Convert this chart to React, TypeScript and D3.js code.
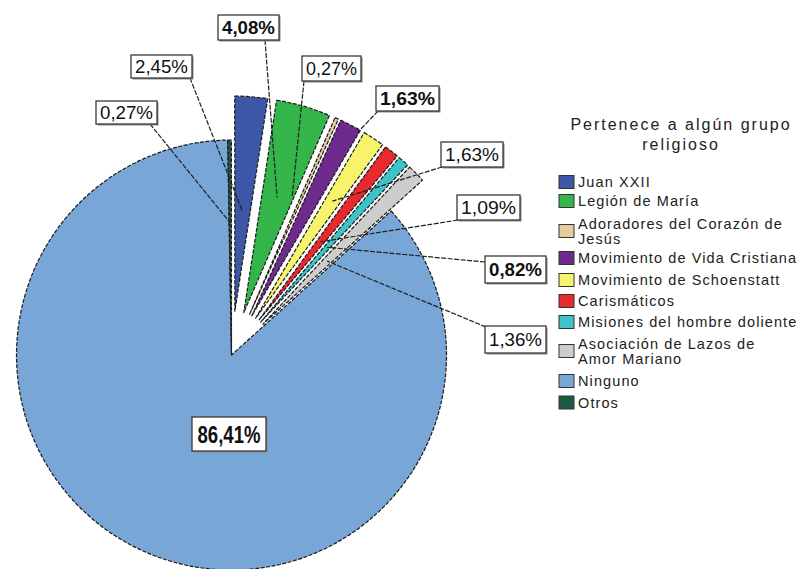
import React from "react";
import * as d3 from "d3";

// ---- data (legend order) ----
const categories = [
  "Juan XXII",
  "Legión de María",
  "Adoradores del Corazón de Jesús",
  "Movimiento de Vida Cristiana",
  "Movimiento de Schoenstatt",
  "Carismáticos",
  "Misiones del hombre doliente",
  "Asociación de Lazos de Amor Mariano",
  "Ninguno",
  "Otros",
];
const percents = [2.45, 4.08, 0.27, 1.63, 1.63, 1.09, 0.82, 1.36, 86.41, 0.27];
const legendLines = [
  ["Juan XXII"],
  ["Legión de María"],
  ["Adoradores del Corazón de", "Jesús"],
  ["Movimiento de Vida Cristiana"],
  ["Movimiento de Schoenstatt"],
  ["Carismáticos"],
  ["Misiones del hombre doliente"],
  ["Asociación de Lazos de", "Amor Mariano"],
  ["Ninguno"],
  ["Otros"],
];
const legendTitle = ["Pertenece a algún grupo", "religioso"];
// order in which slices run clockwise from 12 o'clock
const pieOrder = [9, 0, 1, 2, 3, 4, 5, 6, 7, 8];

// ---- styles / layout ----
const colors = [
  "#3B57A6", "#33B54A", "#E6CC9E", "#6E2A8C", "#F7F36B",
  "#E8292E", "#3EC3C9", "#CDCDCD", "#78A6D7", "#1D5A43",
];
const explode = [44, 44, 44, 44, 44, 44, 44, 44, 0, 0];
// label boxes [x, y, w, h], leader start, leader end (angle deg override, radius)
const labelLayout = [
  { box: [131, 55, 61, 23], start: [190, 78], r: 100, bold: false },
  { box: [218, 15, 61, 25], start: [265, 40], r: 120, bold: true },
  { box: [302, 56, 59, 25], start: [304, 81], ang: 20, r: 125, bold: false },
  { box: [376, 86, 63, 25], start: [378, 111], ang: 30, r: 212, bold: true },
  { box: [441, 142, 62, 25], start: [442, 167], r: 140, bold: false },
  { box: [457, 195, 63, 25], start: [458, 220], r: 100, bold: false },
  { box: [485, 256, 61, 27], start: [485, 262], r: 100, bold: true },
  { box: [485, 326, 61, 27], start: [486, 327], r: 90, bold: false },
  { box: [192, 417, 74, 34], start: null, r: 0, bold: true },
  { box: [96, 101, 61, 23], start: [150, 124], r: 132, bold: false },
];

const W = 800;
const H = 569;
const cx = 231.5;
const cy = 355;
const R = 215;
const rot = (-1 * Math.PI) / 180;

const fmt = (v: number) => d3.format(".2f")(v).replace(".", ",") + "%";

export default function App() {
  const pie = d3
    .pie<number>()
    .sort(null)
    .value((i) => percents[i])
    .startAngle(rot)
    .endAngle(rot + 2 * Math.PI);
  const arcs = pie(pieOrder);
  const arcGen = d3.arc<d3.PieArcDatum<number>>().innerRadius(0).outerRadius(R);

  const info = arcs.map((a) => {
    const i = a.data;
    const mid = (a.startAngle + a.endAngle) / 2;
    const e = explode[i];
    const ax = cx + e * Math.sin(mid);
    const ay = cy - e * Math.cos(mid);
    const L = labelLayout[i];
    const ang = L.ang !== undefined ? (L.ang * Math.PI) / 180 : mid;
    const ex = ax + L.r * Math.sin(ang);
    const ey = ay - L.r * Math.cos(ang);
    return { a, i, ax, ay, ex, ey };
  });

  const legendX = 559;
  const legendRows = [182, 201, 231, 258, 280, 301, 322, 351, 381, 402.5];

  return (
    <svg
      width={W}
      height={H}
      style={{ position: "absolute", left: 0, top: 0, background: "#fff" }}
      fontFamily="'Liberation Sans', Arial, sans-serif"
    >
      <rect x={0} y={0} width={W} height={H} fill="#fff" />
      {[...info]
        .sort((p, q) => (p.i === 8 ? -1 : q.i === 8 ? 1 : 0))
        .map((s) => (
          <path
            key={s.i}
            d={arcGen(s.a) || ""}
            transform={`translate(${s.ax},${s.ay})`}
            fill={colors[s.i]}
            stroke="#1a1a1a"
            strokeWidth={1.2}
            strokeDasharray="4,1.5"
            strokeLinejoin="round"
          />
        ))}
      {info
        .filter((s) => labelLayout[s.i].start)
        .map((s) => {
          const st = labelLayout[s.i].start as number[];
          return (
            <line
              key={"l" + s.i}
              x1={st[0]}
              y1={st[1]}
              x2={s.ex}
              y2={s.ey}
              stroke="#1f1f1f"
              strokeWidth={1.2}
              strokeDasharray="5,1.5"
            />
          );
        })}
      {info.map((s) => {
        const L = labelLayout[s.i];
        const [x, y, w, h] = L.box;
        const big = s.i === 8;
        return (
          <g key={"b" + s.i}>
            <rect x={x + 1.5} y={y + 1.5} width={w} height={h} fill="#8a8a8a" />
            <rect x={x} y={y} width={w} height={h} fill="#fff" stroke="#3a3a3a" strokeWidth={1.3} />
            <text
              x={x + w / 2}
              y={y + h / 2 + (big ? 8.5 : 6.5)}
              textAnchor="middle"
              fontSize={big ? 24 : 18.5}
              fontWeight={L.bold ? "bold" : "normal"}
              fill="#111"
              textLength={w - (big ? 11 : 8)}
              lengthAdjust="spacingAndGlyphs"
            >
              {fmt(percents[s.i])}
            </text>
          </g>
        );
      })}
      <g fill="#222">
        {legendTitle.map((t, k) => (
          <text
            key={"t" + k}
            x={681}
            y={130 + k * 20}
            textAnchor="middle"
            fontSize={16}
            letterSpacing={2}
          >
            {t}
          </text>
        ))}
        {categories.map((c, i) => {
          const yc = legendRows[i];
          const lines = legendLines[i];
          return (
            <g key={"lg" + i}>
              <rect
                x={legendX}
                y={yc - 6.5}
                width={15}
                height={13}
                fill={colors[i]}
                stroke="#333"
                strokeWidth={1}
              />
              {lines.map((ln, k) => (
                <text
                  key={k}
                  x={578}
                  y={yc + 5 + (lines.length === 2 ? (k === 0 ? -7.5 : 7.5) : 0)}
                  fontSize={14.5}
                  letterSpacing={1.1}
                >
                  {ln}
                </text>
              ))}
            </g>
          );
        })}
      </g>
    </svg>
  );
}
